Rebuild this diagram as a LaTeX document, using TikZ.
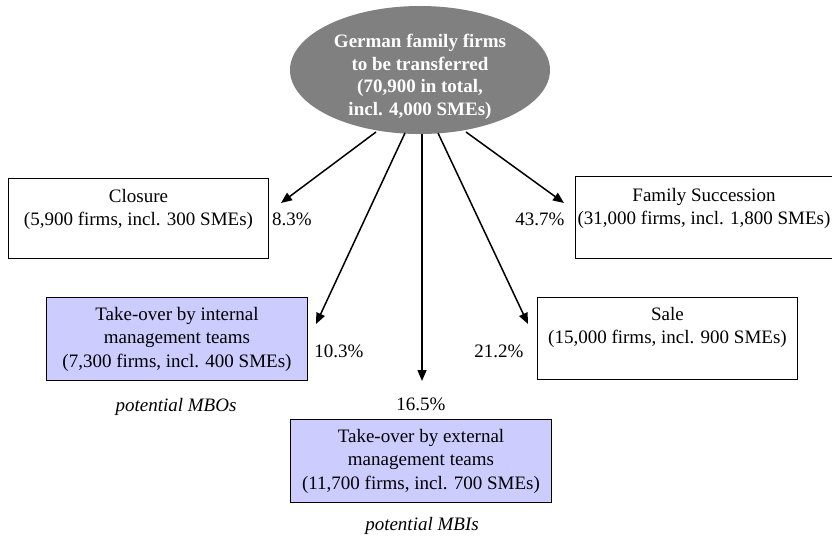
\documentclass[tikz,border=0pt]{standalone}
\usepackage{fontspec}
\setmainfont{Liberation Serif}
\usetikzlibrary{shapes.geometric,arrows.meta}
\definecolor{ovalgray}{HTML}{808080}
\definecolor{mgmtblue}{HTML}{CCCCFF}
\begin{document}
\begin{tikzpicture}[x=1pt,y=-1pt,
  every node/.style={font=\fontsize{19}{23.5}\selectfont, inner sep=0pt},
  panel/.style={draw=black, line width=1pt, fill=white, anchor=north west},
  mgmt/.style={panel, fill=mgmtblue},
  boxtext/.style={align=center, anchor=north},
  pct/.style={anchor=center},
  note/.style={font=\itshape\fontsize{19}{23.5}\selectfont},
  flow/.style={line width=1.5pt, -{Triangle[length=11pt,width=9pt]}}]
\useasboundingbox (0,0) rectangle (832,536);

% source oval
\node[ellipse, fill=ovalgray, minimum width=260pt, minimum height=128pt] (src) at (420,70) {};
\node[align=center, text=white, font=\bfseries\fontsize{19}{22.5}\selectfont] (srctext) at (420,77)
  {German family firms\\to be transferred\\(70,900 in total,\\incl. 4,000 SMEs)};

% destination boxes
\node[panel, minimum width=260pt, minimum height=80pt] (closure) at (8,178) {};
\node[boxtext] (closuretext) at ([yshift=-11pt]closure.north) {Closure\\(5,900 firms, incl. 300 SMEs)};

\node[panel, minimum width=262pt, minimum height=82pt] (family) at (575,176) {};
\node[boxtext] (familytext) at (704,188) {Family Succession\\(31,000 firms, incl. 1,800 SMEs)};

\node[mgmt, minimum width=261pt, minimum height=83pt] (internal) at (46,297) {};
\node[align=center] (internaltext) at (internal.center) {Take-over by internal\\management teams\\(7,300 firms, incl. 400 SMEs)};

\node[panel, minimum width=260pt, minimum height=82pt] (sale) at (537,297) {};
\node[boxtext] (saletext) at ([yshift=-10pt]sale.north) {Sale\\(15,000 firms, incl. 900 SMEs)};

\node[mgmt, minimum width=261pt, minimum height=83pt] (external) at (290,419) {};
\node[align=center] (externaltext) at (external.center) {Take-over by external\\management teams\\(11,700 firms, incl. 700 SMEs)};

% shares
\node[pct] (pclosure) at (292,219) {8.3\%};
\node[pct] (pfamily) at (540,219) {43.7\%};
\node[pct] (pinternal) at (339,351) {10.3\%};
\node[pct] (psale) at (499,351) {21.2\%};
\node[pct] (pexternal) at (421,404) {16.5\%};

% notes
\node[note] (mbo) at (176,407) {potential MBOs};
\node[note] (mbi) at (422,526) {potential MBIs};

% arrow start and end points
\coordinate (s1) at (376,132);
\coordinate (s2) at (405,133);
\coordinate (s3) at (422,134);
\coordinate (s4) at (438,133);
\coordinate (s5) at (466,132);
\coordinate (e1) at (281,203);
\coordinate (e2) at (316,324);
\coordinate (e3) at (422,381);
\coordinate (e4) at (528,324);
\coordinate (e5) at (564,203);

\draw[flow] (s1) -- (e1);
\draw[flow] (s2) -- (e2);
\draw[flow] (s3) -- (e3);
\draw[flow] (s4) -- (e4);
\draw[flow] (s5) -- (e5);
\end{tikzpicture}
\end{document}
